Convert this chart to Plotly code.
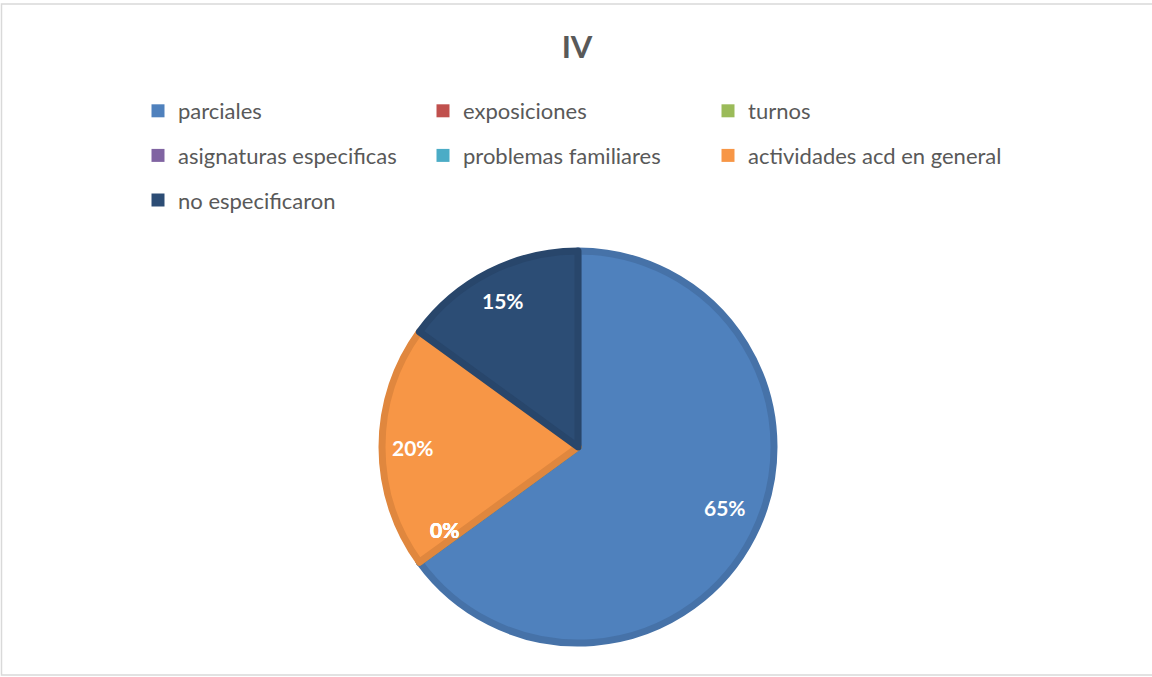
import math
import plotly.graph_objects as go

# data
labels = ["parciales", "exposiciones", "turnos", "asignaturas especificas",
          "problemas familiares", "actividades acd en general", "no especificaron"]
values = [65, 0, 0, 0, 0, 20, 15]

fill_colors = ["#4F81BD", "#C0504D", "#9BBB59", "#8064A2", "#4BACC6", "#F79646", "#2C4D75"]
edge_colors = ["#4672A8", "#AB4744", "#8AA74F", "#725990", "#4299B0", "#E0873E", "#28466B"]

W, H = 1152, 677
GRAY = "#595959"
FONT = "Lato"

fig = go.Figure()

# pie: centre ~(578, 447), radius ~196 px
cx, cy, r = 578, 447, 196
fig.add_trace(go.Pie(
    labels=labels,
    values=values,
    sort=False,
    direction="clockwise",
    rotation=0,
    marker=dict(colors=fill_colors, line=dict(color=edge_colors, width=7)),
    textinfo="none",
    showlegend=False,
    domain=dict(x=[(cx - r) / W, (cx + r) / W],
                y=[(H - cy - r) / H, (H - cy + r) / H]),
    hoverinfo="label+percent",
))

# Excel-style data labels: mid-angle of each slice, ~0.84 of the radius
total = sum(values)
cum = 0
for v in values:
    frac = (cum + v / 2) / total
    cum += v
    ang = 2 * math.pi * frac
    lx = cx + 0.84 * r * math.sin(ang)
    ly = cy - 0.84 * r * math.cos(ang)
    fig.add_annotation(
        x=lx / W, y=1 - ly / H, xref="paper", yref="paper",
        text=f"<b>{round(100 * v / total)}%</b>", showarrow=False,
        font=dict(family=FONT, size=21, color="white"),
    )

# legend: 3 columns, each its own vertical legend (Excel-style grid)
n_cols = 3
col_x = [138, 423, 708]
legend_names = ["legend", "legend2", "legend3"]
legend_cfg = {}
for i, lab in enumerate(labels):
    c = i % n_cols
    fig.add_trace(go.Scatter(
        x=[None], y=[None], mode="markers", name=lab,
        marker=dict(symbol="square", size=13, color=fill_colors[i]),
        legend=legend_names[c], legendgroup=lab, hoverinfo="skip",
    ))
for c, lname in enumerate(legend_names):
    legend_cfg[lname] = dict(
        orientation="v", x=col_x[c] / W, xanchor="left",
        y=1 - 90 / H, yanchor="top",
        tracegroupgap=13,
        font=dict(family=FONT, size=22, color=GRAY),
        bgcolor="rgba(0,0,0,0)", itemclick=False, itemdoubleclick=False,
    )

fig.update_layout(
    width=W, height=H,
    margin=dict(l=0, r=0, t=0, b=0),
    paper_bgcolor="white",
    plot_bgcolor="white",
    title=dict(text="<b>IV</b>", x=577 / W, xanchor="center", y=1 - 47 / H, yanchor="middle",
               font=dict(family=FONT, size=31, color=GRAY)),
    xaxis=dict(visible=False),
    yaxis=dict(visible=False),
    showlegend=True,
    **legend_cfg,
)

# outer chart frame (right edge falls outside the picture)
fig.add_shape(type="rect", xref="paper", yref="paper",
              x0=1.5 / W, x1=1.2, y0=1 - 675 / H, y1=1 - 4 / H,
              line=dict(color="#D9D9D9", width=1.5), layer="below")

fig.write_html("out.html", config={"displayModeBar": False},
               post_script="document.body.style.margin='0';")
